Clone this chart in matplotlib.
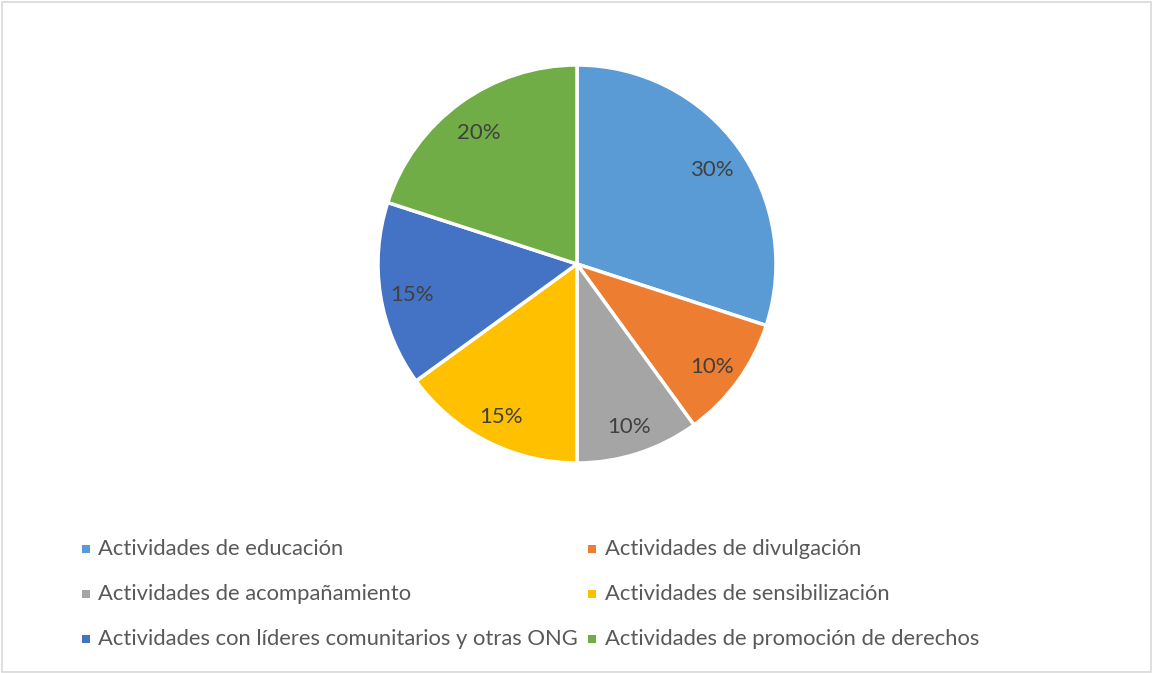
import matplotlib
matplotlib.use("Agg")
import matplotlib.pyplot as plt
from matplotlib.patches import Rectangle

categories = [
    "Actividades de educación",
    "Actividades de divulgación",
    "Actividades de acompañamiento",
    "Actividades de sensibilización",
    "Actividades con líderes comunitarios y otras ONG",
    "Actividades de promoción de derechos",
]
values = [30, 10, 10, 15, 15, 20]
colors = ["#5B9BD5", "#ED7D31", "#A5A5A5", "#FFC000", "#4472C4", "#70AD47"]

W, H = 1152, 673
fig = plt.figure(figsize=(W / 100, H / 100), dpi=100)
fig.patch.set_facecolor("white")

FONT = "Lato"
TXT = "#595959"

# pie axes: center (577,264), radius 199 px
cx, cy, r = 577, 264, 199
ax = fig.add_axes([(cx - r) / W, (H - cy - r) / H, 2 * r / W, 2 * r / H])
wedges, texts, autotexts = ax.pie(
    values, colors=colors, startangle=90, counterclock=False,
    autopct=lambda p: f"{p:.0f}%", pctdistance=0.84, radius=1,
    wedgeprops=dict(edgecolor="white", linewidth=2.5),
    textprops=dict(color="#404040", fontsize=16, family=FONT),
)
for t in autotexts:
    x, y = t.get_position()
    t.set_position((x, y - 0.022))
ax.set_xlim(-1, 1)
ax.set_ylim(-1, 1)
ax.set_aspect("auto")
ax.axis("off")

# legend (two columns, three rows)
rows_y = [549, 594, 639]
col_marker_x = [86, 592]
col_text_x = [98, 605]
sq = 8
for i, (lab, col) in enumerate(zip(categories, colors)):
    row, c = divmod(i, 2)
    y = rows_y[row]
    mx = col_marker_x[c]
    fig.patches.append(Rectangle(((mx - sq / 2) / W, (H - y - sq / 2) / H), sq / W, sq / H,
                                 transform=fig.transFigure, facecolor=col, edgecolor="none"))
    fig.text(col_text_x[c] / W, (H - y) / H, lab, ha="left", va="center",
             fontsize=15.8, color=TXT, family=FONT)

# chart border
fig.patches.append(Rectangle((1.5 / W, 1.5 / H), (W - 3) / W, (H - 3) / H,
                             transform=fig.transFigure, facecolor="none",
                             edgecolor="#D9D9D9", linewidth=1.2))

fig.savefig("out.png", dpi=100, facecolor="white")
